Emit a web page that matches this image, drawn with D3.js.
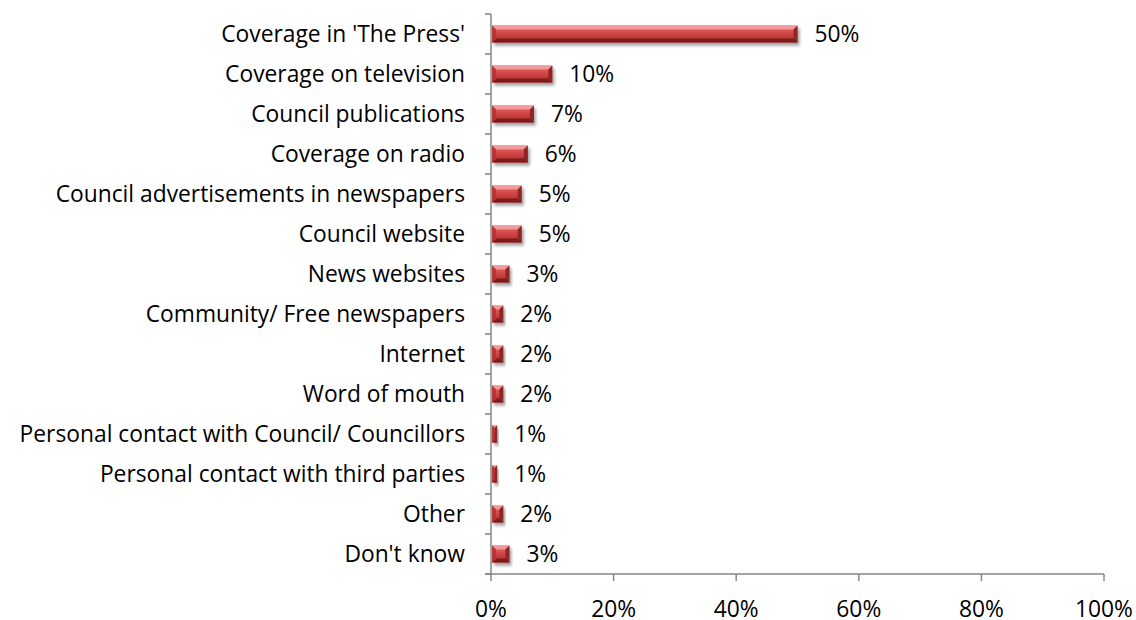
<!DOCTYPE html>
<html>
<head>
<meta charset="utf-8">
<script src="https://cdn.jsdelivr.net/npm/d3@7"></script>
<style>
  body { margin: 0; background: #fff; }
  text { font-family: "Open Sans", Lato, sans-serif; fill: #000; }
</style>
</head>
<body>
<div id="chart"></div>
<script>
// ---------- DATA ----------
var categories = [
  "Coverage in 'The Press'",
  "Coverage on television",
  "Council publications",
  "Coverage on radio",
  "Council advertisements in newspapers",
  "Council website",
  "News websites",
  "Community/ Free newspapers",
  "Internet",
  "Word of mouth",
  "Personal contact with Council/ Councillors",
  "Personal contact with third parties",
  "Other",
  "Don't know"
];
var values = [50, 10, 7, 6, 5, 5, 3, 2, 2, 2, 1, 1, 2, 3];
var xTicks = [0, 20, 40, 60, 80, 100];

// ---------- CHART ----------
var width = 1136, height = 620;
var plotLeft = 491, plotRight = 1104, plotTop = 14, plotBottom = 574;
var fontSize = '22.8px';

var svg = d3.select('#chart').append('svg')
    .attr('width', width)
    .attr('height', height);

var x = d3.scaleLinear().domain([0, 100]).range([plotLeft, plotRight]);
var y = d3.scaleBand().domain(categories).range([plotTop, plotBottom]);

var defs = svg.append('defs');
var g = defs.append('linearGradient').attr('id', 'face')
    .attr('x1', 0).attr('y1', 0).attr('x2', 0).attr('y2', 1);
g.append('stop').attr('offset', '0%').attr('stop-color', '#e86a6a');
g.append('stop').attr('offset', '50%').attr('stop-color', '#d04444');
g.append('stop').attr('offset', '100%').attr('stop-color', '#a52a2a');

var f = defs.append('filter').attr('id', 'shadow')
    .attr('x', '-10%').attr('y', '-50%').attr('width', '130%').attr('height', '200%');
f.append('feGaussianBlur').attr('in', 'SourceAlpha').attr('stdDeviation', 1.5);
f.append('feOffset').attr('dx', 2).attr('dy', 3).attr('result', 'ob');
f.append('feComponentTransfer').append('feFuncA').attr('type', 'linear').attr('slope', 0.35);
var fm = f.append('feMerge');
fm.append('feMergeNode');
fm.append('feMergeNode').attr('in', 'SourceGraphic');

var barH = 17;
var bev = 4;

var bars = svg.selectAll('g.bar')
    .data(values)
    .enter()
    .append('g')
    .attr('class', 'bar')
    .attr('filter', 'url(#shadow)');

bars.each(function(d, i) {
    var grp = d3.select(this);
    var x0 = x(0) + 1, x1 = x(d);
    var y0 = y(categories[i]) + (y.bandwidth() - barH) / 2, y1 = y0 + barH;
    var b = Math.min(bev, (x1 - x0) / 2);
    grp.append('rect').attr('x', x0).attr('y', y0)
        .attr('width', x1 - x0).attr('height', barH).attr('fill', 'url(#face)');
    // top bevel
    grp.append('polygon').attr('points', [[x0, y0], [x1, y0], [x1 - b, y0 + b], [x0 + b, y0 + b]].join(' '))
        .attr('fill', '#f29a9a');
    // bottom bevel
    grp.append('polygon').attr('points', [[x0, y1], [x1, y1], [x1 - b, y1 - b], [x0 + b, y1 - b]].join(' '))
        .attr('fill', '#7e1f1f');
    // left bevel
    grp.append('polygon').attr('points', [[x0, y0], [x0 + b, y0 + b], [x0 + b, y1 - b], [x0, y1]].join(' '))
        .attr('fill', '#b83434');
    // right bevel
    grp.append('polygon').attr('points', [[x1, y0], [x1 - b, y0 + b], [x1 - b, y1 - b], [x1, y1]].join(' '))
        .attr('fill', '#8f2525');
});

// value labels
svg.selectAll('text.val')
    .data(values)
    .enter()
    .append('text')
    .attr('class', 'val')
    .attr('x', function(d) { return x(d) + 17; })
    .attr('y', function(d, i) { return y(categories[i]) + y.bandwidth() / 2; })
    .attr('dy', '0.35em')
    .style('font-size', fontSize)
    .text(function(d) { return d + '%'; });

// y axis
var axisColor = '#868686';
svg.append('line').attr('x1', plotLeft).attr('x2', plotLeft).attr('y1', plotTop).attr('y2', plotBottom)
    .attr('stroke', axisColor).attr('stroke-width', 1.5);
var yTickPos = categories.map(function(c) { return y(c); }).concat([plotBottom]);
svg.selectAll('line.ytick').data(yTickPos).enter().append('line')
    .attr('x1', plotLeft - 6).attr('x2', plotLeft)
    .attr('y1', function(d) { return d; }).attr('y2', function(d) { return d; })
    .attr('stroke', axisColor).attr('stroke-width', 1.5);
svg.selectAll('text.cat').data(categories).enter().append('text')
    .attr('x', plotLeft - 26)
    .attr('y', function(d) { return y(d) + y.bandwidth() / 2; })
    .attr('dy', '0.35em')
    .attr('text-anchor', 'end')
    .style('font-size', fontSize)
    .text(function(d) { return d; });

// x axis
svg.append('line').attr('x1', plotLeft - 6).attr('x2', plotRight).attr('y1', plotBottom).attr('y2', plotBottom)
    .attr('stroke', axisColor).attr('stroke-width', 1.5);
svg.selectAll('line.xtick').data(xTicks).enter().append('line')
    .attr('x1', function(d) { return x(d); }).attr('x2', function(d) { return x(d); })
    .attr('y1', plotBottom).attr('y2', plotBottom + 7)
    .attr('stroke', axisColor).attr('stroke-width', 1.5);
svg.selectAll('text.xlab').data(xTicks).enter().append('text')
    .attr('x', function(d) { return x(d); })
    .attr('y', 609)
    .attr('dy', '0.35em')
    .attr('text-anchor', 'middle')
    .style('font-size', fontSize)
    .text(function(d) { return d + '%'; });
</script>
</body>
</html>
